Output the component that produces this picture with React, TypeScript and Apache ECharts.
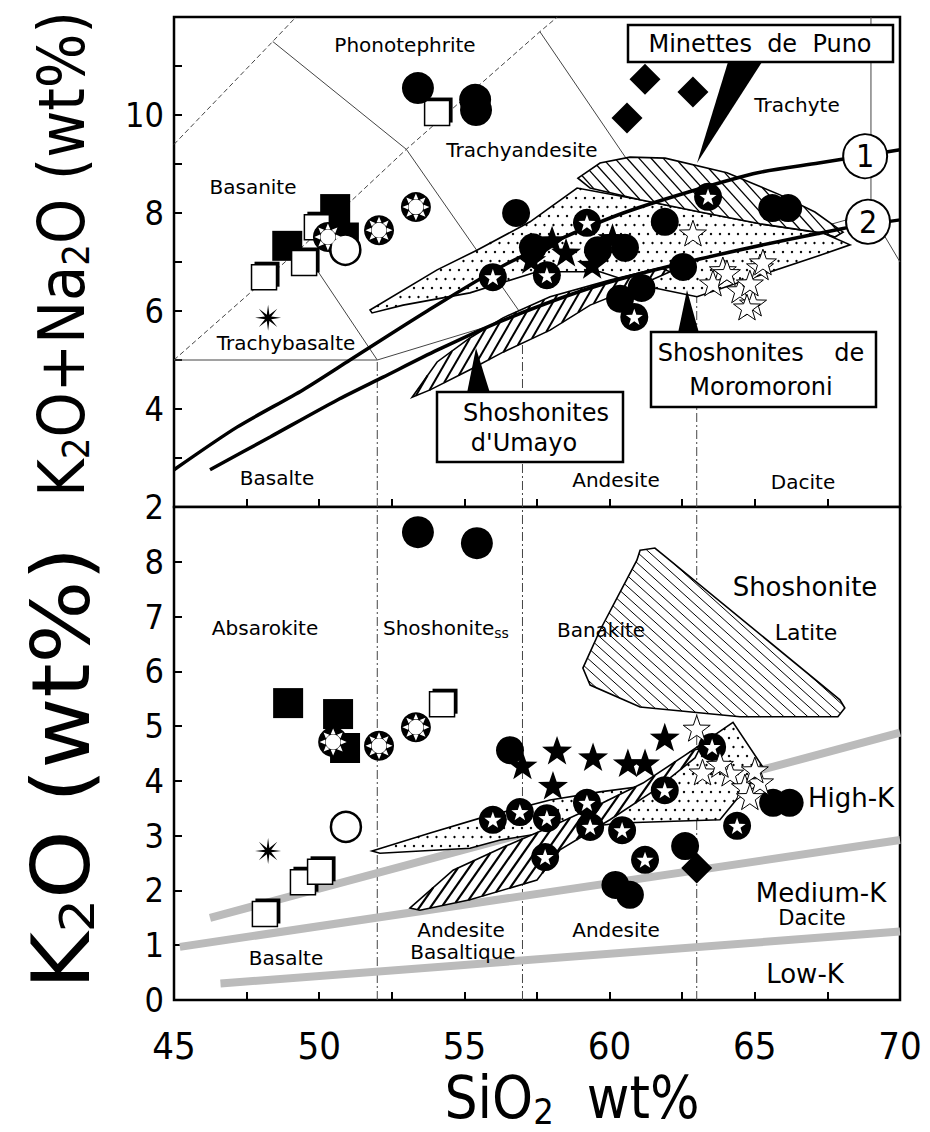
import React, { useEffect, useRef } from "react";
import * as echarts from "echarts";

// ---------- axes ----------
const X_MIN = 45;
const X_MAX = 70;
const TAS_MIN = 2;
const TAS_MAX = 12;
const K_MIN = 0;
const K_MAX = 9;
const X_TICK_LABELS = [45, 50, 55, 60, 65, 70];
const TAS_TICK_LABELS = [2, 4, 6, 8, 10];
const K_TICK_LABELS = [0, 1, 2, 3, 4, 5, 6, 7, 8];

// ---------- TAS classification boundaries ----------
const tasSolid = [
  [[45, 5], [52, 5]],
  [[52, 5], [49.4, 7.3]],
  [[48.4, 11.5], [53, 9.3], [57, 5.9]],
  [[52, 5], [57, 5.9], [63, 7], [69, 8]],
  [[57.6, 11.7], [63, 7]],
  [[69, 8], [69, 12]],
  [[69, 8], [70, 7]],
];
const tasDashed = [
  [[45, 5], [49.4, 7.3], [53, 9.3], [57.6, 11.7], [58.2, 12]],
  [[45, 9.4], [48.4, 11.5], [49.2, 12]],
];
const tasVertical = [
  [[52, 2], [52, 5]],
  [[57, 2], [57, 5.9]],
  [[63, 2], [63, 7]],
];
const kVertical = [
  [[52, 0], [52, 9]],
  [[57, 0], [57, 9]],
  [[63, 0], [63, 9]],
];

// ---------- dividing curves (1) and (2) ----------
const curve1 = [[45, 2.76], [47.17, 3.63], [49.44, 4.39], [51.06, 5.0], [53.72, 6.0], [56.58, 7.0], [60.47, 8.0], [64.94, 8.8], [67.2, 9.02], [70, 9.29]];
const curve2 = [[46.24, 2.76], [48.31, 3.43], [50.61, 4.18], [52.2, 4.65], [54.06, 5.2], [56.33, 5.81], [59.5, 6.5], [63.1, 7.06], [68.0, 7.68], [70, 7.86]];
const curveNames = ["1", "2"];
const curveLabelPts = [[68.8, 9.16], [68.9, 7.82]];

// ---------- K2O series boundaries ----------
const kBandLow = [[46.6, 0.3], [70, 1.25]];
const kBandMid = [[45.2, 0.97], [70, 2.92]];
const kBandHigh = [[46.24, 1.5], [70, 4.88]];

// ---------- fields ----------
const minettesTAS = [[58.91, 8.71], [59.67, 9.02], [60.7, 9.14], [61.91, 9.12], [64.04, 8.82], [65.87, 8.37], [67.07, 8.02], [68.04, 7.61], [67.76, 7.51], [67.35, 7.59], [65.18, 7.78], [63.11, 8.02], [61.05, 8.27], [59.33, 8.51]];
const dottedTAS = [[51.75, 6.02], [54.06, 6.84], [55.43, 7.24], [57.26, 7.82], [58.88, 8.51], [61.05, 8.27], [63.11, 8.02], [65.18, 7.78], [67.35, 7.59], [68.28, 7.35], [67.25, 7.14], [65.18, 6.73], [63.01, 6.29], [61.05, 6.53], [59.67, 6.8], [57.5, 6.8], [55.19, 6.37], [52.89, 6.12], [51.82, 5.96]];
const umayoTAS = [[53.2, 4.24], [54.06, 4.96], [55.19, 5.45], [56.33, 5.86], [57.95, 6.29], [60.01, 6.63], [61.74, 6.88], [62.08, 6.8], [61.05, 6.53], [59.33, 6.12], [57.95, 5.61], [56.33, 5.16], [55.19, 4.8], [53.82, 4.39]];
const triangleK = [[61.05, 8.21], [61.56, 8.25], [61.91, 8.1], [67.93, 5.48], [68.1, 5.33], [67.86, 5.17], [64.49, 5.17], [61.05, 5.35], [59.33, 5.75], [59.08, 6.06], [59.67, 6.75], [60.94, 8.03]];
const dottedK = [[51.82, 2.72], [53.82, 3.05], [55.54, 3.32], [57.95, 3.65], [59.67, 3.8], [61.39, 3.92], [62.77, 4.53], [64.25, 5.07], [65.28, 4.25], [63.8, 3.29], [60.36, 3.23], [58.29, 3.1], [56.23, 2.92], [55.19, 2.77], [52.09, 2.68]];
const umayoK = [[53.13, 1.68], [54.61, 2.37], [56.33, 2.79], [57.95, 3.16], [59.77, 3.6], [61.15, 3.96], [62.77, 4.53], [63.11, 4.6], [62.94, 4.42], [61.56, 3.83], [60.01, 3.29], [58.29, 2.74], [57.5, 2.19], [55.19, 1.83], [53.47, 1.64]];

// ---------- samples: TAS panel ----------
const tasBigCircle = [[53.4, 10.55], [55.37, 10.31], [55.4, 10.1]];
const tasBlackCircle = [[56.78, 8.0], [61.9, 7.82], [62.53, 6.9], [65.6, 8.1], [66.15, 8.1], [59.6, 7.24], [60.53, 7.29], [61.1, 6.47], [57.36, 7.3], [60.36, 6.25]];
const tasStarCircle = [[55.98, 6.69], [59.22, 7.8], [60.85, 5.88], [63.39, 8.33], [57.84, 6.73]];
const tasBlackStar = [[58.02, 7.45], [57.3, 7.05], [58.5, 7.2], [60.1, 7.5], [59.4, 6.95]];
const tasOpenStar = [[62.87, 7.59], [65.18, 6.9], [64.49, 6.43], [64.94, 6.16], [63.9, 6.84], [63.56, 6.57], [64.83, 6.57], [65.28, 7.0], [64.73, 6.08], [64.04, 6.78]];
const tasOpenSquare = [[54.06, 10.04], [48.1, 6.69], [49.48, 6.98], [49.92, 7.71]];
const tasBlackSquare = [[50.55, 8.08], [50.85, 7.5], [48.9, 7.33]];
const tasRingTri = [[50.3, 7.51], [52.06, 7.65], [53.33, 8.12]];
const tasOpenCircle = [[50.9, 7.25]];
const tasAsterisk = [[48.24, 5.86]];
const tasDiamond = [[61.22, 10.73], [62.87, 10.47], [60.6, 9.94]];

// ---------- samples: K2O panel ----------
const kBigCircle = [[53.4, 8.54], [55.43, 8.34]];
const kBlackCircle = [[56.57, 4.56], [62.6, 2.81], [65.63, 3.6], [66.2, 3.6], [60.2, 2.1], [60.7, 1.92]];
const kStarCircle = [[55.98, 3.29], [56.91, 3.43], [57.84, 3.32], [59.22, 3.6], [59.33, 3.16], [60.43, 3.1], [61.22, 2.56], [61.9, 3.83], [63.53, 4.62], [57.78, 2.61], [64.39, 3.18]];
const kBlackStar = [[57.0, 4.29], [58.19, 4.56], [58.05, 3.92], [59.43, 4.44], [60.63, 4.33], [61.22, 4.33], [61.9, 4.8]];
const kOpenStar = [[63.0, 4.96], [63.2, 4.16], [64.15, 4.14], [64.66, 3.89], [65.18, 3.98], [64.83, 3.71], [63.8, 4.3], [65.0, 4.2]];
const kOpenSquare = [[54.23, 5.4], [48.13, 1.57], [49.44, 2.15], [50.03, 2.34]];
const kBlackSquare = [[48.93, 5.42], [50.65, 5.22], [50.89, 4.6]];
const kRingTri = [[50.48, 4.71], [52.06, 4.64], [53.33, 4.98]];
const kOpenCircle = [[50.92, 3.16]];
const kAsterisk = [[48.24, 2.72]];
const kDiamond = [[63.0, 2.41]];

// ---------- fonts ----------
const FONT_NARROW = '"Liberation Sans Narrow", "DejaVu Sans Condensed", "Liberation Sans", sans-serif';
const FONT_LABEL = '"DejaVu Sans", Verdana, sans-serif';

// ---------- symbol paths ----------
function starPath(n: number, rIn: number) {
  const pts: string[] = [];
  for (let i = 0; i < 2 * n; i++) {
    const r = i % 2 ? rIn : 50;
    const a = -Math.PI / 2 + (i * Math.PI) / n;
    pts.push((50 + r * Math.cos(a)).toFixed(2) + " " + (50 + r * Math.sin(a)).toFixed(2));
  }
  return "path://M" + pts.join(" L") + " Z";
}
function ringTriPath() {
  const p = (r: number, t: number) => (50 + r * Math.cos(t)).toFixed(2) + " " + (50 + r * Math.sin(t)).toFixed(2);
  let d = "";
  for (let k = 0; k < 8; k++) {
    const a = (k * Math.PI) / 4;
    d += "M" + p(28, a - 0.3) + " L" + p(46, a) + " L" + p(28, a + 0.3) + " Z ";
  }
  return "path://" + d;
}
const STAR5 = starPath(5, 20);
const ASTERISK = starPath(8, 13);
const RING_TRI = ringTriPath();

// ---------- geometry helpers (pixel space) ----------
function hatchSegs(pts: number[][], angleDeg: number, sp: number) {
  const a = (angleDeg * Math.PI) / 180;
  const c = Math.cos(a), s = Math.sin(a);
  const rp = pts.map(([x, y]) => [x * c + y * s, -x * s + y * c]);
  const vs = rp.map((p) => p[1]);
  const vmin = Math.min(...vs), vmax = Math.max(...vs);
  const segs: number[][] = [];
  for (let v = Math.ceil(vmin / sp) * sp; v <= vmax; v += sp) {
    const xs: number[] = [];
    for (let i = 0; i < rp.length; i++) {
      const p = rp[i], q = rp[(i + 1) % rp.length];
      if ((p[1] <= v && q[1] > v) || (q[1] <= v && p[1] > v)) {
        const t = (v - p[1]) / (q[1] - p[1]);
        xs.push(p[0] + t * (q[0] - p[0]));
      }
    }
    xs.sort((m, n) => m - n);
    for (let k = 0; k + 1 < xs.length; k += 2) {
      const u1 = xs[k], u2 = xs[k + 1];
      segs.push([u1 * c - v * s, u1 * s + v * c, u2 * c - v * s, u2 * s + v * c]);
    }
  }
  return segs;
}
function insidePoly(x: number, y: number, poly: number[][]) {
  let ins = false;
  for (let i = 0, j = poly.length - 1; i < poly.length; j = i++) {
    const xi = poly[i][0], yi = poly[i][1], xj = poly[j][0], yj = poly[j][1];
    if (yi > y !== yj > y && x < ((xj - xi) * (y - yi)) / (yj - yi) + xi) ins = !ins;
  }
  return ins;
}
function dotGrid(pts: number[][], sp: number) {
  const xs = pts.map((p) => p[0]), ys = pts.map((p) => p[1]);
  const res: number[][] = [];
  const x0 = Math.min(...xs), x1 = Math.max(...xs), y0 = Math.min(...ys), y1 = Math.max(...ys);
  for (let y = Math.ceil(y0 / sp) * sp; y <= y1; y += sp) {
    const off = (Math.round(y / sp) % 2) * (sp / 2);
    for (let x = Math.floor(x0 / sp) * sp + off; x <= x1; x += sp) {
      if (insidePoly(x, y, pts)) res.push([x, y]);
    }
  }
  return res;
}

// ---------- series builders ----------
function lineSeries(data: number[][], gi: number, lineStyle: any, z: number, smooth = false) {
  return {
    type: "line", xAxisIndex: gi, yAxisIndex: gi, data, symbol: "none", showSymbol: false,
    lineStyle: { opacity: 1, ...lineStyle }, z, silent: true, clip: true, smooth: smooth ? 0.25 : false, animation: false,
  };
}
function polySeries(poly: number[][], gi: number, kind: any, z: number) {
  return {
    type: "custom", xAxisIndex: gi, yAxisIndex: gi, data: poly, clip: true, z, silent: true,
    renderItem: (params: any, api: any) => {
      if (params.dataIndex !== 0) return null;
      const pts = poly.map((p) => api.coord(p));
      const children: any[] = [
        { type: "polygon", shape: { points: pts }, style: { fill: "#fff", stroke: "none" } },
      ];
      if (kind.hatch) {
        hatchSegs(pts, kind.angle, kind.sp).forEach((s) =>
          children.push({ type: "line", shape: { x1: s[0], y1: s[1], x2: s[2], y2: s[3] }, style: { stroke: "#000", lineWidth: kind.lw } })
        );
      }
      if (kind.dots) {
        dotGrid(pts, kind.sp).forEach((d) =>
          children.push({ type: "circle", shape: { cx: d[0], cy: d[1], r: 1.2 }, style: { fill: "#000" } })
        );
      }
      children.push({ type: "polygon", shape: { points: pts }, style: { fill: "none", stroke: "#000", lineWidth: 1.6 } });
      return { type: "group", children };
    },
  };
}
function sc(data: number[][], gi: number, symbol: string, size: number, itemStyle: any, z: number, extra: any = {}) {
  return {
    type: "scatter", xAxisIndex: gi, yAxisIndex: gi, data, symbol, symbolSize: size, symbolKeepAspect: true,
    itemStyle: { opacity: 1, ...itemStyle }, z, silent: true, ...extra,
  };
}
function markerSeries(gi: number, s: any) {
  const black = { color: "#000" };
  const white = { color: "#fff" };
  return [
    sc(s.blackSquare, gi, "rect", 30, black, 5),
    sc(s.openSquare, gi, "rect", 25, black, 5, { symbolOffset: [3, -3] }),
    sc(s.openSquare, gi, "rect", 25, { color: "#fff", borderColor: "#000", borderWidth: 1.5 }, 6),
    sc(s.ringTri, gi, "circle", 30, black, 6),
    sc(s.ringTri, gi, "circle", 15, white, 7),
    sc(s.ringTri, gi, RING_TRI, 27, white, 7),
    sc(s.openCircle, gi, "circle", 30, { color: "#fff", borderColor: "#000", borderWidth: 2.5 }, 6),
    sc(s.asterisk, gi, ASTERISK, 26, black, 6),
    sc(s.diamond, gi, "diamond", 31, black, 6),
    sc(s.bigCircle, gi, "circle", 32, black, 6),
    sc(s.blackCircle, gi, "circle", 28, black, 6),
    sc(s.starCircle, gi, "circle", 28, black, 6),
    sc(s.starCircle, gi, STAR5, 17, white, 7),
    sc(s.blackStar, gi, STAR5, 30, black, 7),
    sc(s.openStar, gi, STAR5, 27, { color: "#fff", borderColor: "#000", borderWidth: 1 }, 8),
  ];
}

function txt(text: string, x: number, y: number, size = 20, extra: any = {}) {
  return {
    type: "text", x, y, z: 102,
    style: {
      text, fill: "#000", font: size + "px " + FONT_LABEL, fontSize: size, fontFamily: FONT_LABEL,
      align: "center", verticalAlign: "middle", textAlign: "center", textVerticalAlign: "middle", ...extra,
    },
  };
}

function buildOption() {
  const thin = { color: "#444", width: 1 };
  const series: any[] = [];
  tasSolid.forEach((d) => series.push(lineSeries(d, 0, thin, 1)));
  tasDashed.forEach((d) => series.push(lineSeries(d, 0, { ...thin, type: [5, 3] }, 1)));
  tasVertical.forEach((d) => series.push(lineSeries(d, 0, { ...thin, type: [9, 3, 2, 3] }, 1)));
  kVertical.forEach((d) => series.push(lineSeries(d, 1, { ...thin, type: [9, 3, 2, 3] }, 1)));
  [kBandLow, kBandMid, kBandHigh].forEach((d) => series.push(lineSeries(d, 1, { color: "#bbbbbb", width: 8 }, 1)));

  series.push(polySeries(dottedTAS, 0, { dots: true, sp: 9 }, 2));
  series.push(polySeries(umayoTAS, 0, { hatch: true, angle: -60, sp: 9, lw: 2 }, 3));
  series.push(polySeries(minettesTAS, 0, { hatch: true, angle: 48, sp: 9, lw: 1.3 }, 3));
  series.push(polySeries(triangleK, 1, { hatch: true, angle: 42, sp: 8, lw: 1 }, 2));
  series.push(polySeries(dottedK, 1, { dots: true, sp: 9 }, 2));
  series.push(polySeries(umayoK, 1, { hatch: true, angle: -55, sp: 9, lw: 2.2 }, 3));

  series.push(lineSeries(curve1, 0, { color: "#000", width: 3.5 }, 4, true));
  series.push(lineSeries(curve2, 0, { color: "#000", width: 3.5 }, 4, true));

  series.push(...markerSeries(0, {
    bigCircle: tasBigCircle, blackCircle: tasBlackCircle, starCircle: tasStarCircle, blackStar: tasBlackStar,
    openStar: tasOpenStar, openSquare: tasOpenSquare, blackSquare: tasBlackSquare, ringTri: tasRingTri,
    openCircle: tasOpenCircle, asterisk: tasAsterisk, diamond: tasDiamond,
  }));
  series.push(...markerSeries(1, {
    bigCircle: kBigCircle, blackCircle: kBlackCircle, starCircle: kStarCircle, blackStar: kBlackStar,
    openStar: kOpenStar, openSquare: kOpenSquare, blackSquare: kBlackSquare, ringTri: kRingTri,
    openCircle: kOpenCircle, asterisk: kAsterisk, diamond: kDiamond,
  }));

  series.push({
    type: "scatter", xAxisIndex: 0, yAxisIndex: 0, data: curveLabelPts, symbol: "circle", symbolSize: 44,
    itemStyle: { color: "#fff", borderColor: "#000", borderWidth: 2, opacity: 1 }, z: 9, silent: true,
    label: {
      show: true, position: "inside", formatter: (p: any) => curveNames[p.dataIndex],
      fontSize: 32, fontFamily: FONT_NARROW, color: "#000",
    },
  });

  const axisTick = { show: true, inside: true, length: 8, lineStyle: { color: "#000", width: 2 } };
  const xAxisBase = {
    type: "value", min: X_MIN, max: X_MAX, interval: 2.5, splitLine: { show: false },
    axisLine: { show: false }, axisTick,
  };
  const boxStyle = { fill: "#fff", stroke: "#000", lineWidth: 2.5 };
  const rich = (main: number, sub: number, lh: number) => ({
    a: { fontSize: main, fontFamily: FONT_NARROW, lineHeight: lh, fill: "#000", color: "#000" },
    s: { fontSize: sub, fontFamily: FONT_NARROW, lineHeight: sub, verticalAlign: "bottom", fill: "#000", color: "#000" },
  });

  return {
    animation: false,
    backgroundColor: "#fff",
    textStyle: { fontFamily: FONT_NARROW },
    grid: [
      { left: 174, top: 17, width: 726, height: 490, show: true, borderColor: "#000", borderWidth: 2.5, backgroundColor: "#fff", containLabel: false, outerBoundsMode: "none" },
      { left: 174, top: 507, width: 726, height: 493, show: true, borderColor: "#000", borderWidth: 2.5, backgroundColor: "#fff", containLabel: false, outerBoundsMode: "none" },
    ],
    xAxis: [
      { ...xAxisBase, gridIndex: 0, axisLabel: { show: false } },
      {
        ...xAxisBase, gridIndex: 1,
        axisLabel: {
          show: true, margin: 27, fontSize: 38, fontFamily: FONT_NARROW, color: "#000",
          formatter: (v: number) => (X_TICK_LABELS.includes(v) ? String(v) : ""),
          showMinLabel: true, showMaxLabel: true,
        },
      },
    ],
    yAxis: [
      {
        type: "value", gridIndex: 0, min: TAS_MIN, max: TAS_MAX, interval: 1, splitLine: { show: false },
        axisLine: { show: false }, axisTick,
        axisLabel: {
          show: true, margin: 10, fontSize: 34, fontFamily: FONT_NARROW, color: "#000",
          formatter: (v: number) => (TAS_TICK_LABELS.includes(v) ? String(v) : ""),
          showMinLabel: true,
        },
      },
      {
        type: "value", gridIndex: 1, min: K_MIN, max: K_MAX, interval: 1, splitLine: { show: false },
        axisLine: { show: false }, axisTick,
        axisLabel: {
          show: true, margin: 10, fontSize: 34, fontFamily: FONT_NARROW, color: "#000",
          formatter: (v: number) => (K_TICK_LABELS.includes(v) ? String(v) : ""),
          showMinLabel: true,
        },
      },
    ],
    series,
    graphic: [
      // pointers
      { type: "polygon", z: 100, shape: { points: [[728, 62], [762, 62], [697, 163]] }, style: { fill: "#000" } },
      { type: "polygon", z: 100, shape: { points: [[467, 393], [490, 393], [476, 348]] }, style: { fill: "#000" } },
      { type: "polygon", z: 100, shape: { points: [[678, 333], [699, 333], [687, 290]] }, style: { fill: "#000" } },
      // boxes
      { type: "rect", z: 101, shape: { x: 628, y: 25, width: 265, height: 37 }, style: boxStyle },
      { type: "rect", z: 101, shape: { x: 437, y: 392, width: 186, height: 70 }, style: boxStyle },
      { type: "rect", z: 101, shape: { x: 651, y: 332, width: 225, height: 75 }, style: boxStyle },
      txt("Minettes  de  Puno", 760, 44, 24),
      txt("Shoshonites", 536, 413, 24),
      txt("d'Umayo", 524, 443, 24),
      txt("Shoshonites    de", 761, 353, 24),
      txt("Moromoroni", 761, 387, 24),
      // TAS field names
      txt("Phonotephrite", 405, 45),
      txt("Trachyandesite", 522, 150),
      txt("Basanite", 253, 187),
      txt("Trachybasalte", 286, 343),
      txt("Trachyte", 797, 105),
      txt("Basalte", 277, 478),
      txt("Andesite", 616, 480),
      txt("Dacite", 803, 482),
      // K2O field names
      txt("Absarokite", 265, 628),
      { type: "text", x: 383, y: 628, z: 102, style: { text: "{a|Shoshonite}{s|ss}", rich: { a: { fontSize: 20, fontFamily: FONT_LABEL, lineHeight: 24 }, s: { fontSize: 14, fontFamily: FONT_LABEL, lineHeight: 14, verticalAlign: "bottom" } }, align: "left", verticalAlign: "middle", textAlign: "left", textVerticalAlign: "middle", fill: "#000" } },
      txt("Banakite", 601, 630),
      txt("Shoshonite", 805, 587, 26),
      txt("Latite", 806, 632, 22),
      txt("High-K", 851, 798, 26),
      txt("Medium-K", 821, 893, 26),
      txt("Dacite", 812, 918, 21),
      txt("Low-K", 805, 974, 26),
      txt("Andesite", 616, 930),
      txt("Andesite", 461, 930),
      txt("Basaltique", 463, 952),
      txt("Basalte", 286, 958),
      // axis titles
      { type: "text", x: 62, y: 254, rotation: Math.PI / 2, z: 102, style: { text: "{a|K}{s|2}{a|O+Na}{s|2}{a|O (wt%)}", rich: rich(64, 38, 66), align: "center", verticalAlign: "middle", textAlign: "center", textVerticalAlign: "middle", fill: "#000" } },
      { type: "text", x: 62, y: 768, rotation: Math.PI / 2, scaleX: 1.21, z: 102, style: { text: "{a|K}{s|2}{a|O (wt%)}", rich: rich(80, 48, 80), align: "center", verticalAlign: "middle", textAlign: "center", textVerticalAlign: "middle", fill: "#000" } },
      { type: "text", x: 572, y: 1098, z: 102, style: { text: "{a|SiO}{s|2}{a|  wt%}", rich: rich(58, 36, 62), align: "center", verticalAlign: "middle", textAlign: "center", textVerticalAlign: "middle", fill: "#000" } },
    ],
  };
}

export default function App() {
  const ref = useRef<HTMLDivElement>(null);
  useEffect(() => {
    const chart = echarts.init(ref.current as HTMLDivElement, null, { renderer: "svg" });
    chart.setOption(buildOption() as any);
    return () => chart.dispose();
  }, []);
  return (
    <div
      ref={ref}
      style={{ position: "fixed", left: 0, top: 0, width: 930, height: 1132, background: "#fff" }}
    />
  );
}
